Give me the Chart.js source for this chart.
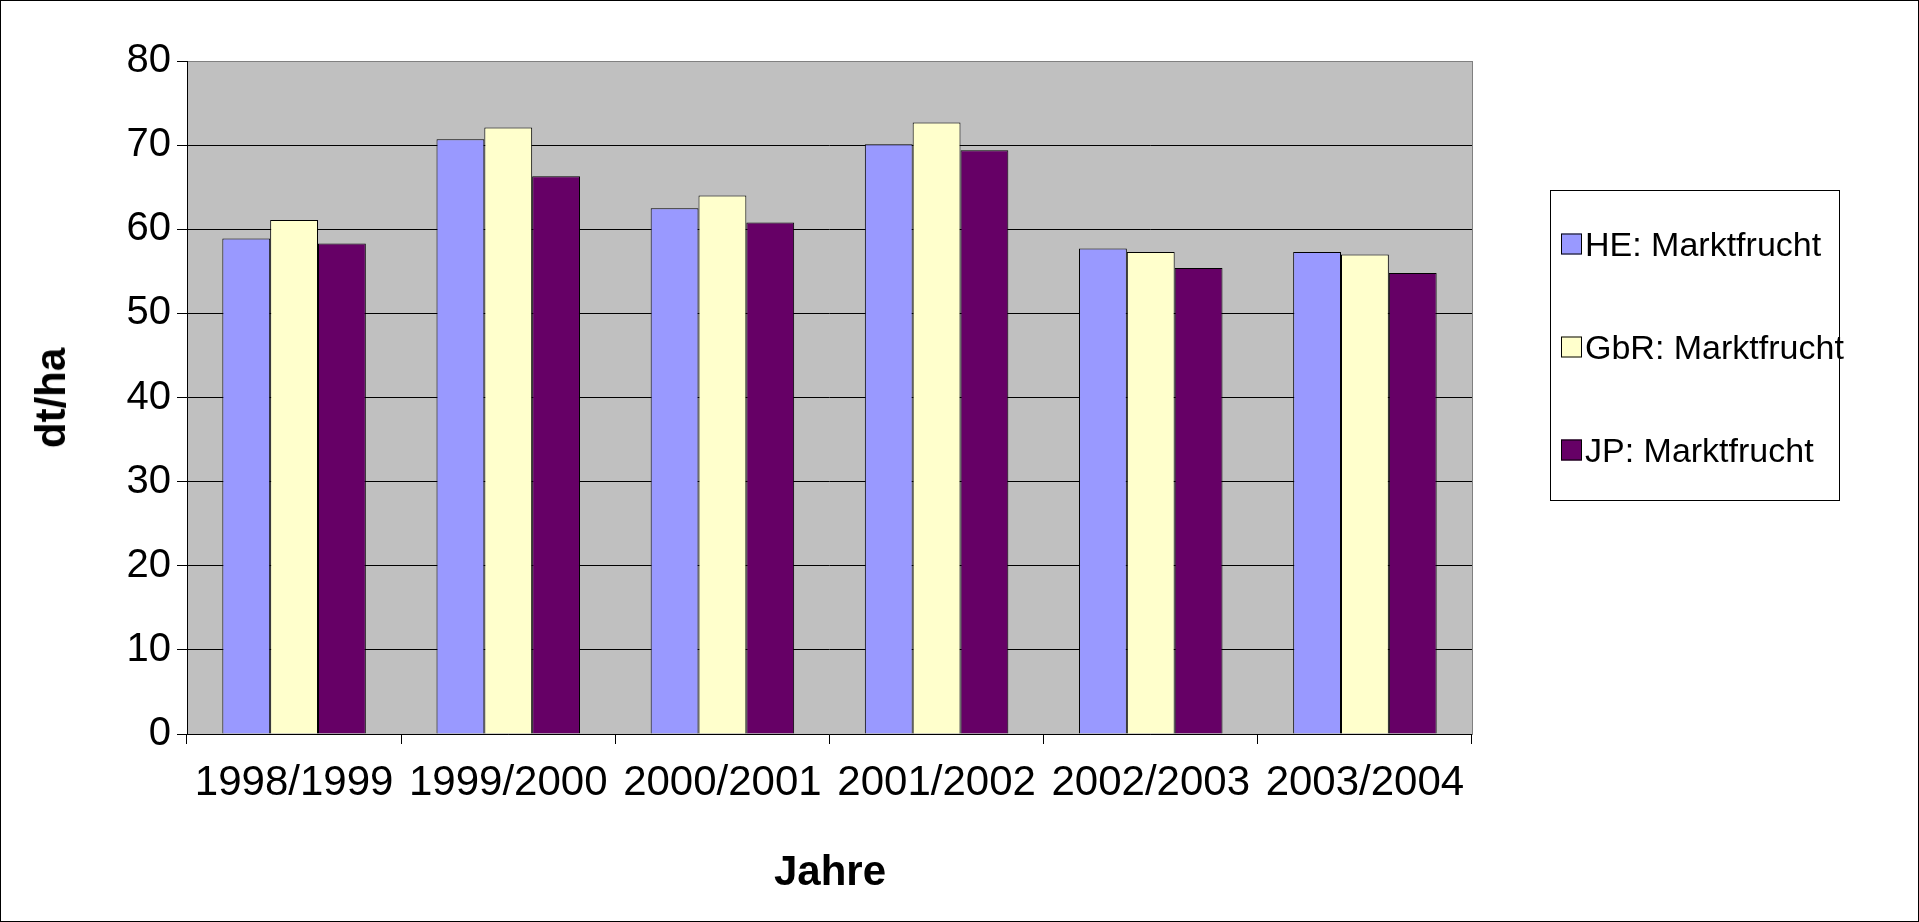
<!DOCTYPE html>
<html>
<head>
<meta charset="utf-8">
<script src="https://cdn.jsdelivr.net/npm/chart.js@4"></script>
<style>
  body { margin: 0; background: #fff; font-family: Arial, "Liberation Sans", sans-serif; }
  #wrap { position: relative; width: 1919px; height: 922px; }
  #frame { position: absolute; left: 0; top: 0; width: 1917px; height: 920px; border: 1px solid #000; pointer-events: none; }
  #ytitle { position: absolute; left: 51px; top: 398px; transform: translate(-50%, -50%) rotate(-90deg); font-weight: bold; font-size: 42px; }
  #xtitle { position: absolute; left: 830px; top: 871px; transform: translate(-50%, -50%); font-weight: bold; font-size: 42px; }
  #legend { position: absolute; left: 1550px; top: 190px; width: 290px; height: 311px; border: 1px solid #000; box-sizing: border-box; font-size: 34px; }
  .item { position: absolute; left: 10px; display: flex; align-items: center; transform: translateY(-50%); white-space: nowrap; }
  .sw { width: 19px; height: 19px; border: 1px solid #000; margin-right: 3px; }
</style>
</head>
<body>
<div id="wrap">
  <canvas id="myChart" width="1919" height="922"></canvas>
  <div id="ytitle">dt/ha</div>
  <div id="xtitle">Jahre</div>
  <div id="legend"></div>
  <div id="frame"></div>
</div>
<script>
const years = ["1998/1999", "1999/2000", "2000/2001", "2001/2002", "2002/2003", "2003/2004"];
const heValues = [58.9, 70.7, 62.5, 70.1, 57.7, 57.3];
const gbrValues = [61.1, 72.1, 64.0, 72.7, 57.3, 57.0];
const jpValues = [58.3, 66.3, 60.8, 69.4, 55.4, 54.8];
const seriesNames = ["HE: Marktfrucht", "GbR: Marktfrucht", "JP: Marktfrucht"];
const colors = ["#9999ff", "#ffffcc", "#660066"];

const legend = document.getElementById("legend");
seriesNames.forEach((name, i) => {
    const el = document.createElement("div");
    el.className = "item";
    el.style.top = (53 + i * 103) + "px";
    el.innerHTML = '<span class="sw" style="background:' + colors[i] + '"></span>' + name;
    legend.appendChild(el);
});

const plotBg = {
    id: "plotBg",
    beforeDraw(chart) {
        const a = chart.chartArea, ctx = chart.ctx;
        ctx.save();
        ctx.fillStyle = "#c0c0c0";
        ctx.fillRect(a.left, a.top, a.right - a.left, a.bottom - a.top);
        ctx.restore();
    },
    afterDraw(chart) {
        const a = chart.chartArea, ctx = chart.ctx;
        ctx.save();
        ctx.strokeStyle = "#808080";
        ctx.lineWidth = 1;
        ctx.strokeRect(a.left + 0.5, a.top + 0.5, a.right - a.left, a.bottom - a.top);
        ctx.strokeStyle = "#000";
        ctx.beginPath();
        ctx.moveTo(a.left, a.bottom + 0.5); ctx.lineTo(a.right, a.bottom + 0.5);
        ctx.moveTo(a.left + 0.5, a.top); ctx.lineTo(a.left + 0.5, a.bottom);
        ctx.stroke();
        ctx.restore();
    }
};

const ds = [heValues, gbrValues, jpValues].map((data, i) => ({
    label: seriesNames[i],
    data: data,
    backgroundColor: colors[i],
    borderColor: "#000",
    borderWidth: 1,
    categoryPercentage: 0.67,
    barPercentage: 1
}));

new Chart(document.getElementById("myChart").getContext("2d"), {
    type: "bar",
    data: { labels: years, datasets: ds },
    plugins: [plotBg],
    options: {
        responsive: false,
        animation: false,
        layout: { padding: { left: 0, right: 447, top: 61, bottom: 0 } },
        plugins: { legend: { display: false }, tooltip: { enabled: false } },
        scales: {
            x: {
                afterFit: s => { s.height = 188; },
                grid: { drawOnChartArea: false, offset: true, color: "#000", tickLength: 10 },
                border: { display: false },
                ticks: { color: "#000", font: { family: "Arial", size: 42 }, padding: 14, maxRotation: 0, autoSkip: false }
            },
            y: {
                min: 0, max: 80,
                afterFit: s => { s.width = 187; },
                grid: { color: "#000", tickLength: 10, drawTicks: true },
                border: { display: false },
                ticks: { stepSize: 10, color: "#000", font: { family: "Arial", size: 40 }, padding: 6 }
            }
        }
    }
});
</script>
</body>
</html>
